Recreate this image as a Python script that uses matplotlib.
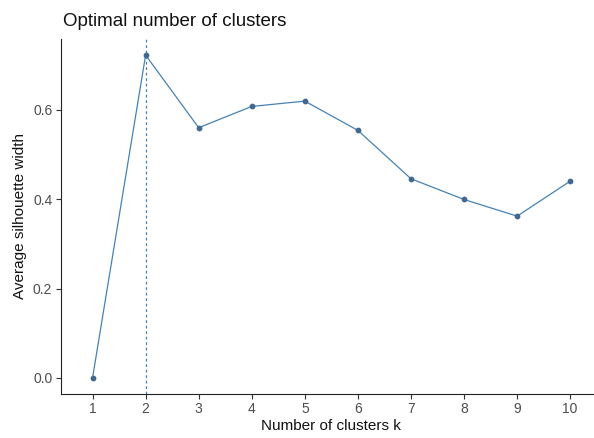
import matplotlib
matplotlib.use("Agg")
import matplotlib.pyplot as plt

k = [1, 2, 3, 4, 5, 6, 7, 8, 9, 10]
sil = [0.0, 0.7225, 0.560, 0.6076, 0.6195, 0.554, 0.4457, 0.3993, 0.362, 0.4403]
best_k = 2
xticklabels = [str(v) for v in k]
yticks = [0.0, 0.2, 0.4, 0.6]

plt.rcParams['font.family'] = ['Liberation Sans', 'DejaVu Sans']

fig = plt.figure(figsize=(5.94, 4.38), dpi=100)
ax = fig.add_axes([0.1022, 0.1005, 0.9113, 0.8105])

color = '#4682B4'
ax.plot(k, sil, color=color, lw=0.9, zorder=2)
ax.scatter(k, sil, color='#41698F', s=10, zorder=3)
ax.axvline(best_k, color=color, lw=0.9, ls=(0, (2.2, 2.2)), zorder=1)

ax.set_xlim(0.4, 10.6)
ax.set_ylim(-0.0361, 0.7586)
ax.set_xticks(k)
ax.set_xticklabels(xticklabels)
ax.set_yticks(yticks)
ax.set_yticklabels([f"{v:.1f}" for v in yticks])

for s in ['top', 'right']:
    ax.spines[s].set_visible(False)
for s in ['left', 'bottom']:
    ax.spines[s].set_color('#222222')
    ax.spines[s].set_linewidth(0.8)

ax.tick_params(axis='both', direction='out', length=3.5, width=0.8,
               color='#333333', labelcolor='#4D4D4D', labelsize=10, pad=2.5)

ax.set_xlabel('Number of clusters k', fontsize=11, color='#111111', labelpad=2)
ax.set_ylabel('Average silhouette width', fontsize=11, color='#111111', labelpad=4)

fig.text(63/594, 1 - 21/438, 'Optimal number of clusters', fontsize=13.5,
         ha='left', va='center', color='#111111')

fig.savefig('out.png', dpi=100)
